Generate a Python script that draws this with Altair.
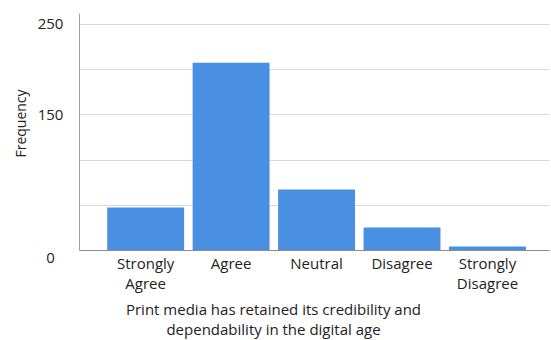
import altair as alt
import pandas as pd

categories = ["Strongly Agree", "Agree", "Neutral", "Disagree", "Strongly Disagree"]
frequency = [47, 207, 67, 25, 4]
y_ticks = [0, 50, 100, 150, 200, 250]
y_labels_shown = [0, 150, 250]
x_title = ["Print media has retained its credibility and", "dependability in the digital age"]
y_title = "Frequency"

df = pd.DataFrame({"category": categories, "frequency": frequency})

FONT = "Open Sans"

shown_test = " || ".join(f"datum.value == {v}" for v in y_labels_shown)

bars = alt.Chart(df).mark_bar(color="#4a90e2").encode(
    x=alt.X(
        "category:N",
        sort=categories,
        scale=alt.Scale(paddingInner=0.1, paddingOuter=0.3, align=0.55),
        axis=alt.Axis(
            title=x_title,
            labelAngle=0,
            labelExpr="split(datum.label, ' ')",
            labelFont=FONT,
            labelFontSize=15,
            labelColor="#222222",
            labelLineHeight=20,
            labelBaseline="top",
            labelPadding=6,
            ticks=False,
            tickSize=0,
            grid=False,
            domainColor="#8c8c8c",
            domainWidth=1,
            titleFont=FONT,
            titleFontSize=15,
            titleFontWeight="normal",
            titleColor="#222222",
            titleX=194,
            titleY=64,
            titleAlign="center",
            titleBaseline="alphabetic",
            titleLineHeight=20,
        ),
    ),
    y=alt.Y(
        "frequency:Q",
        scale=alt.Scale(domain=[0, 262], nice=False),
        axis=alt.Axis(
            title=y_title,
            values=y_ticks,
            labelExpr=f"({shown_test}) ? datum.label : ''",
            labelFont=FONT,
            labelFontSize=15,
            labelColor="#222222",
            labelAlign="center",
            labelBaseline="middle",
            labelPadding=29,
            labelOffset={"condition": {"test": "datum.value == 0", "value": 7}, "value": 0},
            ticks=False,
            tickSize=0,
            grid=True,
            gridColor="#d9d9d9",
            gridWidth=1,
            domainColor="#a0a0a0",
            domainWidth=1,
            titleFont=FONT,
            titleFontSize=14,
            titleFontWeight="normal",
            titleColor="#222222",
            titleAngle=-90,
            titleX=-58,
            titleY=110,
            titleAlign="center",
            titleBaseline="middle",
        ),
    ),
)

chart = (
    bars
    .properties(
        width=470,
        height=237,
        autosize=alt.AutoSizeParams(type="none"),
        padding={"left": 79, "top": 13, "right": 2, "bottom": 90},
    )
    .configure(background="white", view=alt.ViewConfig(stroke="transparent", strokeWidth=0))
)

chart.save("out.html", embed_options={"renderer": "svg", "actions": False})
